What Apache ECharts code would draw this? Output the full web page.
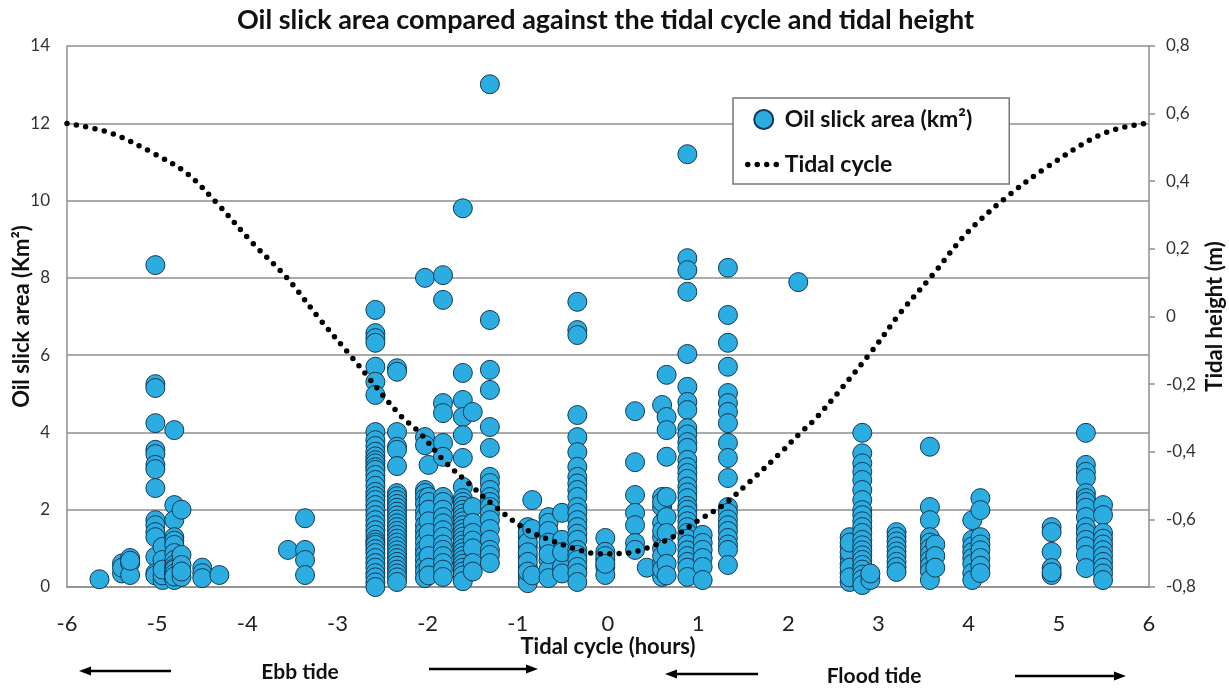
<!DOCTYPE html>
<html>
<head>
<meta charset="utf-8">
<script src="https://cdn.jsdelivr.net/npm/echarts@6/dist/echarts.min.js"></script>
<style>
  html, body { margin: 0; padding: 0; background: #fff; }
  #chart { width: 1229px; height: 688px; }
</style>
</head>
<body>
<div id="chart"></div>
<script>
// Tidal cycle axis (hours from low water)
const hourTicks = [-6, -5, -4, -3, -2, -1, 0, 1, 2, 3, 4, 5, 6];

// Oil slick area observations (km²), grouped by tidal hour of acquisition
const slickColumns = [
  [-5.64, [0.2]],
  [-5.39, [0.61, 0.35, 0.5]],
  [-5.30, [0.75, 0.61, 0.31, 0.68]],
  [-5.02, [8.33, 5.25, 5.15, 4.24, 3.55, 3.44, 3.16, 3.05, 2.56, 1.73, 1.6, 1.42, 1.29, 0.78, 0.36, 0.3]],
  [-4.94, [1.04, 0.7, 0.18, 0.3, 0.45]],
  [-4.81, [4.06, 2.12, 1.73, 1.29, 1.2, 1.09, 0.88, 0.7, 0.57, 0.49, 0.39, 0.31, 0.23, 0.18, 0.45, 0.35, 0.27]],
  [-4.73, [2.0, 0.83, 0.57, 0.26, 0.4]],
  [-4.50, [0.5, 0.36, 0.23]],
  [-4.31, [0.31]],
  [-3.55, [0.96]],
  [-3.36, [1.78, 0.96, 0.7, 0.31]],
  [-2.58, [7.17, 6.57, 6.44, 6.32, 5.7, 5.31, 4.97, 4.01, 3.8, 3.65, 3.5, 3.38, 3.28, 3.2, 3.1, 3.03, 2.9, 2.77, 2.62, 2.46, 2.35, 2.25, 2.12, 1.99, 1.86, 1.73, 1.6, 1.47, 1.35, 1.22, 1.15, 1.09, 0.98, 0.88, 0.75, 0.62, 0.5, 0.36, 0.25, 0.12, 0.0]],
  [-2.34, [5.66, 5.57, 4.01, 3.63, 3.55, 3.13, 2.43, 2.35, 2.25, 2.15, 2.05, 1.95, 1.85, 1.75, 1.65, 1.55, 1.45, 1.35, 1.25, 1.15, 1.05, 0.95, 0.85, 0.75, 0.65, 0.55, 0.45, 0.35, 0.25, 0.13]],
  [-2.03, [8.0, 3.88, 3.67, 2.51, 2.43, 2.3, 2.15, 1.95, 1.8, 1.6, 1.45, 1.3, 1.15, 0.98, 0.85, 0.7, 0.55, 0.4, 0.23]],
  [-1.99, [3.16, 2.33, 2.2, 2.0, 1.7, 1.4, 1.1, 0.8, 0.5, 0.3]],
  [-1.83, [8.07, 7.43, 4.76, 4.5, 3.73, 3.37, 2.33, 2.2, 2.0, 1.81, 1.65, 1.47, 1.3, 1.1, 0.96, 0.8, 0.62, 0.45, 0.26]],
  [-1.61, [9.8, 5.54, 4.84, 4.4, 3.93, 3.34, 2.59, 2.3, 2.2, 2.1, 2.0, 1.9, 1.8, 1.7, 1.6, 1.5, 1.4, 1.3, 1.2, 1.1, 1.0, 0.9, 0.8, 0.7, 0.6, 0.5, 0.4, 0.3, 0.15]],
  [-1.50, [4.53, 2.07, 1.66, 1.4, 1.2, 1.0, 0.62, 0.4]],
  [-1.31, [13.01, 6.91, 5.62, 5.1, 4.14, 3.6, 2.85, 2.69, 2.51, 2.33, 2.2, 2.07, 1.9, 1.73, 1.5, 1.22, 0.96, 0.83, 0.62]],
  [-0.89, [1.55, 1.29, 1.04, 0.78, 0.52, 0.26, 0.1, 1.4, 1.15, 0.9, 0.65, 0.4]],
  [-0.84, [2.25, 1.5, 0.3]],
  [-0.66, [1.81, 1.66, 1.29, 1.0, 0.7, 0.45, 0.23, 1.45, 1.15, 0.85]],
  [-0.51, [1.92, 1.22, 0.52, 0.35, 0.9]],
  [-0.34, [7.38, 6.65, 6.52, 4.45, 3.88, 3.49, 3.11, 2.85, 2.68, 2.51, 2.33, 2.07, 1.92, 1.73, 1.55, 1.38, 1.22, 0.96, 0.83, 0.7, 0.52, 0.36, 0.13]],
  [-0.03, [1.27, 0.91, 0.7, 0.52, 0.31, 0.8, 0.6]],
  [0.30, [4.55, 3.23, 2.38, 1.92, 1.6, 1.14, 0.96]],
  [0.43, [0.5]],
  [0.60, [4.71, 2.33, 2.07, 1.66, 1.29, 1.0, 0.62, 0.26, 2.2, 1.45, 0.8, 0.45]],
  [0.65, [5.49, 4.4, 4.06, 3.37, 2.33, 1.81, 1.4, 1.0, 0.6, 0.3]],
  [0.88, [11.2, 8.51, 8.2, 7.64, 6.03, 5.18, 4.79, 4.58, 4.11, 3.95, 3.75, 3.6, 3.29, 3.1, 2.95, 2.8, 2.6, 2.45, 2.3, 2.1, 2.0, 1.85, 1.7, 1.55, 1.4, 1.25, 1.1, 0.95, 0.8, 0.65, 0.5, 0.26]],
  [1.05, [1.35, 1.14, 0.96, 0.75, 0.52, 0.18]],
  [1.33, [8.26, 7.04, 6.32, 5.7, 5.02, 4.76, 4.53, 4.24, 3.73, 3.34, 2.82, 2.07, 1.92, 1.75, 1.6, 1.45, 1.27, 1.1, 0.96, 0.57]],
  [2.11, [7.89]],
  [2.68, [1.29, 1.04, 0.78, 0.6, 0.36, 0.13, 0.9, 0.5, 0.25, 1.15]],
  [2.82, [3.99, 3.46, 3.2, 2.98, 2.77, 2.51, 2.25, 1.99, 1.86, 1.7, 1.55, 1.4, 1.22, 1.08, 0.95, 0.82, 0.7, 0.57, 0.45, 0.32, 0.2, 0.05]],
  [2.91, [0.18, 0.35]],
  [3.20, [1.42, 1.3, 1.18, 1.05, 0.92, 0.8, 0.65, 0.52, 0.39]],
  [3.57, [3.63, 2.07, 1.73, 1.29, 1.15, 1.0, 0.85, 0.7, 0.55, 0.4, 0.18]],
  [3.63, [1.1, 0.8, 0.5]],
  [4.04, [1.73, 1.22, 1.05, 0.9, 0.75, 0.6, 0.36, 0.18]],
  [4.13, [2.3, 1.99, 1.29, 1.1, 0.95, 0.75, 0.55, 0.36]],
  [4.92, [1.55, 1.42, 0.91, 0.49, 0.31, 0.38]],
  [5.30, [3.99, 3.16, 2.98, 2.82, 2.43, 2.3, 2.2, 2.05, 1.81, 1.55, 1.4, 1.22, 1.05, 0.83, 0.49]],
  [5.49, [2.12, 1.86, 1.4, 1.25, 1.1, 0.95, 0.8, 0.65, 0.5, 0.35, 0.18]]
];

// Tidal height (m) through the cycle
const tideHours = [-6, -5.52, -5.05, -4.67, -4.34, -3.94, -3.56, -3.19, -2.86, -2.31, -2.09, -1.83, -1.56, -1.23, -0.90, -0.64, -0.39, -0.09, 0.21, 0.43, 0.72, 1.02, 1.28, 1.57, 1.91, 2.13, 2.32, 2.91, 3.24, 3.60, 3.98, 4.42, 4.87, 5.46, 5.93, 6];
const tideHeight = [0.571, 0.543, 0.484, 0.423, 0.336, 0.217, 0.114, -0.01, -0.114, -0.291, -0.343, -0.424, -0.49, -0.567, -0.631, -0.661, -0.685, -0.702, -0.70, -0.685, -0.652, -0.60, -0.557, -0.489, -0.404, -0.345, -0.297, -0.108, 0.01, 0.123, 0.247, 0.353, 0.442, 0.537, 0.57, 0.571];

const FONT = 'Lato, "Open Sans", sans-serif';
const GRID_GREY = '#8f8f8f';
const TIDE_DOTS = { color: '#000', width: 5.5, type: [0, 9.5], cap: 'round' };

const slickPoints = slickColumns.flatMap(([h, vals]) => vals.map(v => [h, v]));
const tidePoints = tideHours.map((h, i) => [h, tideHeight[i]]);

function arrow(x1, x2, y) {
  const dir = x2 > x1 ? 1 : -1;
  const head = 12, half = 4.5;
  return [
    { type: 'line', shape: { x1: x1, y1: y, x2: x2 - dir * head * 0.8, y2: y },
      style: { stroke: '#000', lineWidth: 2.6 } },
    { type: 'polygon', shape: { points: [[x2, y], [x2 - dir * head, y - half], [x2 - dir * head, y + half]] },
      style: { fill: '#000' } }
  ];
}

const nameStyle = { fontFamily: FONT, fontWeight: 'bold', fontSize: 22, color: '#111' };

const chart = echarts.init(document.getElementById('chart'), null, { renderer: 'canvas' });

chart.setOption({
  animation: false,
  backgroundColor: '#fff',
  textStyle: { fontFamily: FONT },
  title: {
    text: 'Oil slick area compared against the tidal cycle and tidal height',
    left: 232,
    top: 2,
    textStyle: { fontFamily: FONT, fontWeight: 'bold', fontSize: 27, color: '#111' }
  },
  legend: {
    left: 733,
    top: 98,
    orient: 'vertical',
    backgroundColor: '#fff',
    borderColor: '#777',
    borderWidth: 1.5,
    borderRadius: 0,
    padding: [10, 37, 8, 12],
    itemGap: 22,
    itemWidth: 32,
    itemHeight: 19,
    textStyle: { fontFamily: FONT, fontWeight: 'bold', fontSize: 23, color: '#111' },
    data: [
      { name: 'Oil slick area (km²)' },
      { name: 'Tidal cycle',
        itemStyle: { color: 'rgba(0,0,0,0)', borderWidth: 0, opacity: 0 },
        lineStyle: TIDE_DOTS }
    ]
  },
  grid: { left: 67, right: 80, top: 46, bottom: 101, containLabel: false, outerBoundsMode: 'none' },
  xAxis: {
    type: 'value',
    min: -6,
    max: 6,
    interval: 1,
    name: 'Tidal cycle (hours)',
    nameLocation: 'middle',
    nameGap: 49,
    nameMoveOverlap: false,
    nameTextStyle: nameStyle,
    axisLine: { show: true, onZero: false, lineStyle: { color: GRID_GREY, width: 1.5 } },
    axisTick: { show: false },
    splitLine: { show: false },
    axisLabel: { margin: 26, fontSize: 22, color: '#222', fontFamily: FONT,
      formatter: v => hourTicks.includes(v) ? String(v) : '' }
  },
  yAxis: [
    {
      type: 'value',
      min: 0,
      max: 14,
      interval: 2,
      name: 'Oil slick area (Km²)',
      nameLocation: 'middle',
      nameGap: 34,
      nameMoveOverlap: false,
      nameTextStyle: nameStyle,
      axisLine: { show: true, onZero: false, lineStyle: { color: GRID_GREY, width: 1.5 } },
      axisTick: { show: false },
      axisLabel: { margin: 17, fontSize: 17, color: '#333', fontFamily: FONT },
      splitLine: { show: true, lineStyle: { color: GRID_GREY, width: 1.5 } }
    },
    {
      type: 'value',
      position: 'right',
      min: -0.8,
      max: 0.8,
      interval: 0.2,
      name: 'Tidal height (m)',
      nameLocation: 'middle',
      nameGap: 55,
      nameRotate: 90,
      nameMoveOverlap: false,
      nameTextStyle: nameStyle,
      axisLine: { show: true, onZero: false, lineStyle: { color: GRID_GREY, width: 1.5 } },
      axisTick: { show: true, inside: false, length: 6, lineStyle: { color: GRID_GREY, width: 1.5 } },
      axisLabel: { margin: 17, fontSize: 17, color: '#333', fontFamily: FONT,
        formatter: v => Math.abs(v) < 1e-9 ? '0' : v.toFixed(1).replace('.', ',') },
      splitLine: { show: false }
    }
  ],
  series: [
    {
      name: 'Oil slick area (km²)',
      type: 'scatter',
      yAxisIndex: 0,
      symbol: 'circle',
      symbolSize: 19,
      z: 2,
      itemStyle: { color: '#2badE2', borderColor: '#163852', borderWidth: 1, opacity: 1 },
      data: slickPoints
    },
    {
      name: 'Tidal cycle',
      type: 'line',
      yAxisIndex: 1,
      smooth: 0.35,
      symbol: 'none',
      z: 3,
      lineStyle: TIDE_DOTS,
      itemStyle: { color: '#000' },
      data: tidePoints
    }
  ],
  graphic: [
    ...arrow(171, 79, 671),
    { type: 'text', x: 300, y: 672, style: { text: 'Ebb tide', fontFamily: FONT, fontWeight: 'bold', fontSize: 21, fill: '#111', textAlign: 'center', textVerticalAlign: 'middle' } },
    ...arrow(429, 538, 669),
    ...arrow(758, 665, 674),
    { type: 'text', x: 874, y: 676, style: { text: 'Flood tide', fontFamily: FONT, fontWeight: 'bold', fontSize: 21, fill: '#111', textAlign: 'center', textVerticalAlign: 'middle' } },
    ...arrow(1015, 1126, 676)
  ]
});
</script>
</body>
</html>
